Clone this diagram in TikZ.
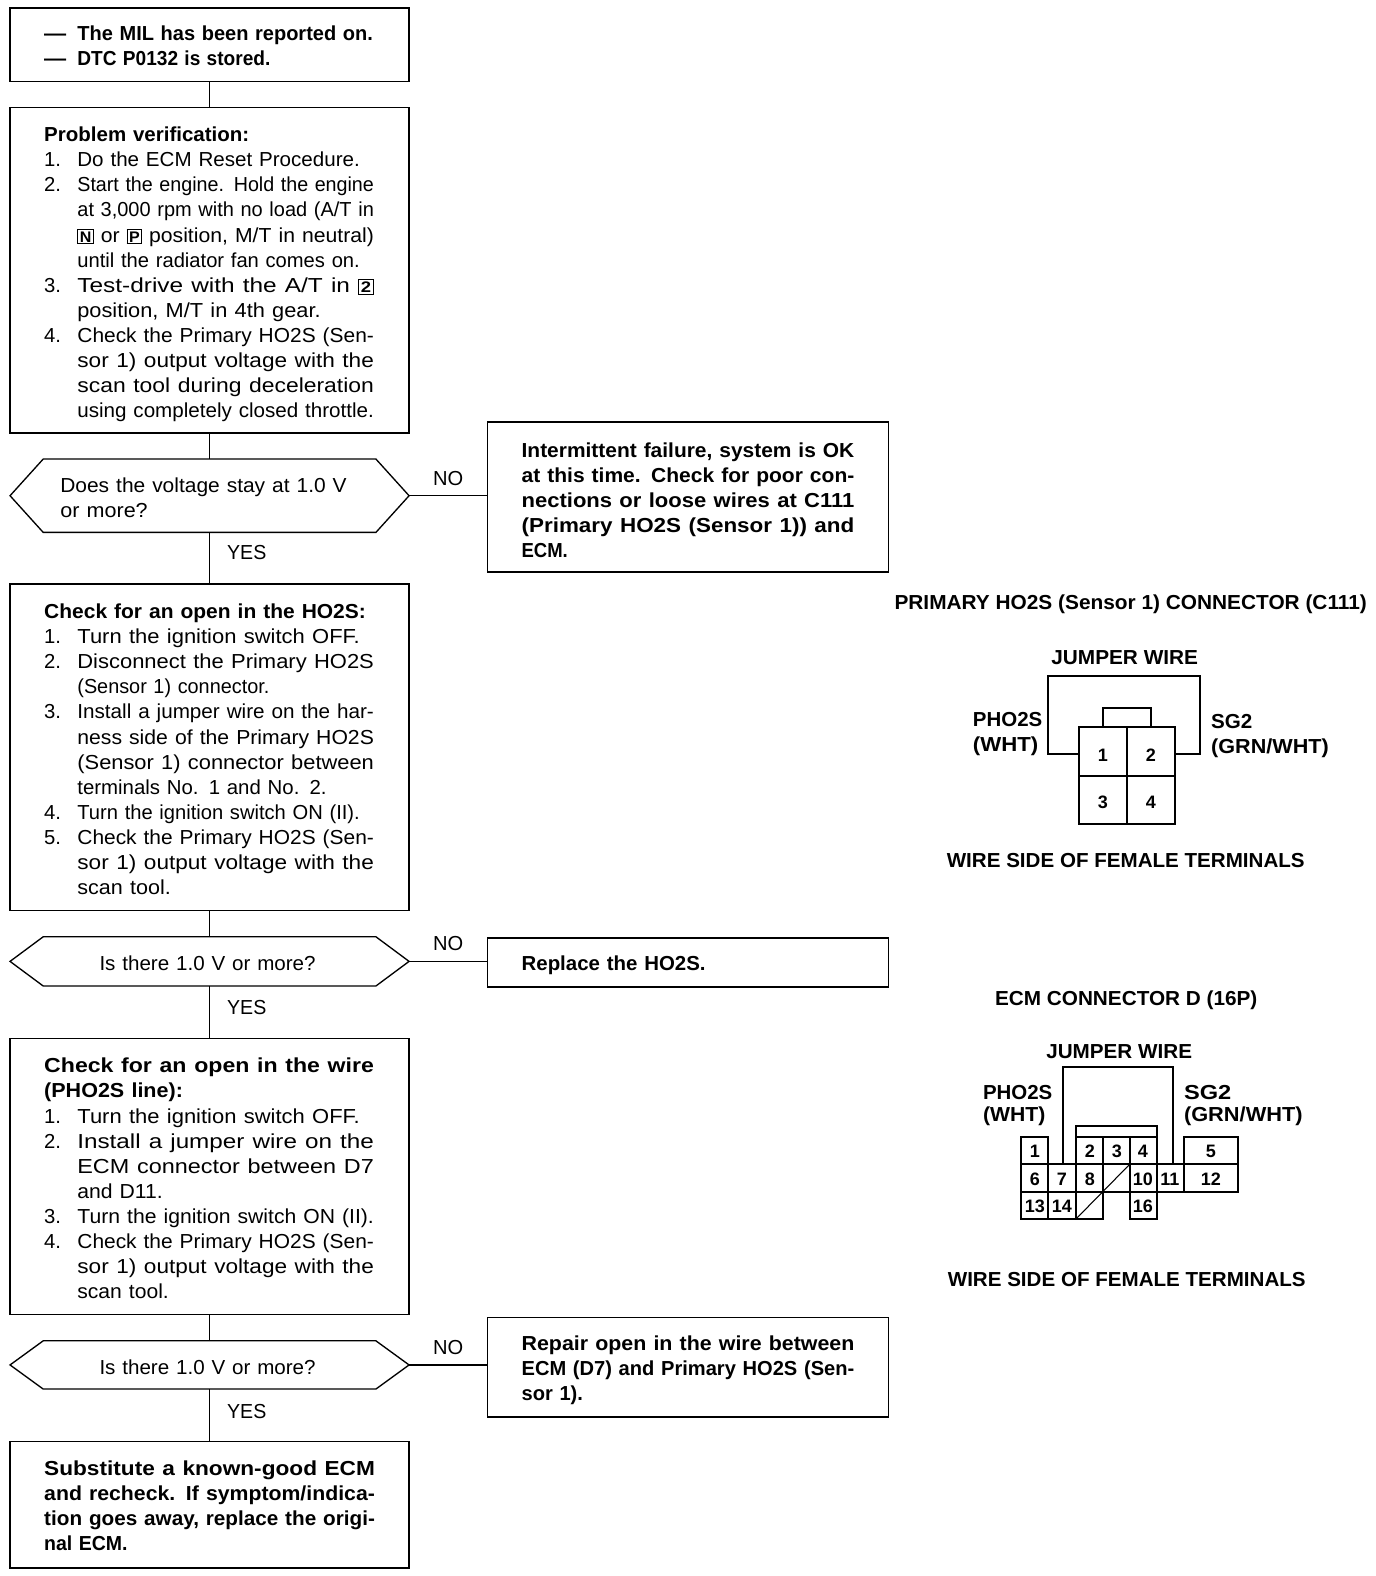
\documentclass[tikz,border=0pt]{standalone}
\usepackage{fontspec}
\usepackage{graphicx}
\setmainfont{Liberation Sans}
\newdimen\pxunit \pxunit=0.7538pt
\newcommand\Fit[3]{\resizebox{\numexpr#2-#1\relax\pxunit}{\height}{#3}}
\newcommand\Txt[2]{\Fit{44}{#1}{#2}}
\newcommand\Ind[2]{\hspace*{33\pxunit}\Fit{77}{#1}{#2}}
\newcommand\It[3]{\makebox[33\pxunit][l]{#1}\Fit{77}{#2}{#3}}
\newcommand\Rt[2]{\Fit{519}{#1}{#2}}
\newcommand\Bx[1]{{\setlength{\fboxsep}{1pt}\setlength{\fboxrule}{0.7pt}\fbox{\fontsize{11.5}{12}\selectfont\bfseries #1}}}
\newcommand\HexOutline[2]{\draw[hexline] (#1.west) -- ([xshift=#2\pxunit]#1.north west) -- ([xshift=-#2\pxunit]#1.north east) -- (#1.east) -- ([xshift=-#2\pxunit]#1.south east) -- ([xshift=#2\pxunit]#1.south west) -- cycle;}
\tikzset{
  txt/.style={font=\fontsize{15.2}{18.85}\selectfont, align=left, inner sep=0pt, outer sep=0pt},
  bold/.style={font=\fontsize{15.2}{18.85}\selectfont\bfseries},
  pad/.style={execute at begin node={\rule{0pt}{\dimexpr 11.2pt+#1\pxunit\relax}}},
  leftbox/.style={txt, draw, line width=1.1pt, rectangle, minimum width=397\pxunit, minimum height=#1\pxunit, text width=329\pxunit},
  rightbox/.style={txt, draw, line width=1.1pt, rectangle, minimum width=399\pxunit, minimum height=#1\pxunit, text width=331\pxunit},
  hexa/.style 2 args={txt, rectangle, minimum width=397\pxunit, minimum height=#1\pxunit, text width=#2\pxunit},
  hexline/.style={line width=1.0pt, line join=miter},
  flow/.style={line width=0.9pt},
  lbl/.style={txt, anchor=west},
  blbl/.style={txt, anchor=west, bold},
  pin/.style={inner sep=0pt, font=\fontsize{13.5}{16}\selectfont\bfseries},
  shell/.style={line width=1.7pt, line join=miter},
  inner/.style={line width=0.8pt},
  fine/.style={line width=0.9pt},
}
\begin{document}
\begin{tikzpicture}[x=0.7538pt,y=-0.7538pt]
\useasboundingbox (0,0) rectangle (1369,1568);
% left column
\node[leftbox=73, bold, pad=2] (start) at (208.5,44.5) {\makebox[33\pxunit][l]{\Fit{44}{66}{---}}\Fit{77}{371}{The MIL has been reported on.}\\ \makebox[33\pxunit][l]{\Fit{44}{66}{---}}\Fit{77}{269}{DTC P0132 is stored.}};
\node[leftbox=324, pad=8] (verify) at (208.5,269) {\Txt{248}{\bfseries Problem verification:}\\
\It{1.}{358}{Do the ECM Reset Procedure.}\\
\It{2.}{372}{Start the engine. Hold the engine}\\
\Ind{372}{at 3,000 rpm with no load (A/T in}\\
\Ind{372}{\Bx{N} or \Bx{P} position, M/T in neutral)}\\
\Ind{358}{until the radiator fan comes on.}\\
\It{3.}{372}{Test-drive with the A/T in \Bx{2}}\\
\Ind{319}{position, M/T in 4th gear.}\\
\It{4.}{372}{Check the Primary HO2S (Sen-}\\
\Ind{372}{sor 1) output voltage with the}\\
\Ind{372}{scan tool during deceleration}\\
\Ind{372}{using completely closed throttle.}};
\node[hexa={73}{297}, pad=4] (q1) at (208.5,493.2) {\Fit{60}{345}{Does the voltage stay at 1.0 V}\\ \Fit{60}{147}{or more?}};
\HexOutline{q1}{33}
\node[leftbox=325, pad=4] (hopen) at (208.5,743.5) {\Txt{364}{\bfseries Check for an open in the HO2S:}\\
\It{1.}{358}{Turn the ignition switch OFF.}\\
\It{2.}{372}{Disconnect the Primary HO2S}\\
\Ind{268}{(Sensor 1) connector.}\\
\It{3.}{372}{Install a jumper wire on the har-}\\
\Ind{372}{ness side of the Primary HO2S}\\
\Ind{372}{(Sensor 1) connector between}\\
\Ind{325}{terminals No. 1 and No. 2.}\\
\It{4.}{358}{Turn the ignition switch ON (II).}\\
\It{5.}{372}{Check the Primary HO2S (Sen-}\\
\Ind{372}{sor 1) output voltage with the}\\
\Ind{170}{scan tool.}};
\node[hexa={49}{219}, pad=3] (q2) at (208.5,956.5) {\Fit{99}{314}{Is there 1.0 V or more?}};
\HexOutline{q2}{33}
\node[leftbox=275, pad=4] (wopen) at (208.5,1170.5) {\Txt{372}{\bfseries Check for an open in the wire}\\
\Txt{182}{\bfseries (PHO2S line):}\\
\It{1.}{358}{Turn the ignition switch OFF.}\\
\It{2.}{372}{Install a jumper wire on the}\\
\Ind{372}{ECM connector between D7}\\
\Ind{162}{and D11.}\\
\It{3.}{372}{Turn the ignition switch ON (II).}\\
\It{4.}{372}{Check the Primary HO2S (Sen-}\\
\Ind{372}{sor 1) output voltage with the}\\
\Ind{168}{scan tool.}};
\node[hexa={48}{219}, pad=4] (q3) at (208.5,1358) {\Fit{99}{314}{Is there 1.0 V or more?}};
\HexOutline{q3}{33}
\node[leftbox=126, bold, pad=2] (final) at (208.5,1497) {\Txt{373}{Substitute a known-good ECM}\\
\Txt{373}{and recheck. If symptom/indica-}\\
\Txt{373}{tion goes away, replace the origi-}\\
\Txt{127}{nal ECM.}};
% right column
\node[rightbox=149, bold, pad=6] (ok) at (684.5,494.5) {\Rt{850}{Intermittent failure, system is OK}\\
\Rt{850}{at this time. Check for poor con-}\\
\Rt{850}{nections or loose wires at C111}\\
\Rt{850}{(Primary HO2S (Sensor 1)) and}\\
\Rt{565}{ECM.}};
\node[rightbox=49, bold, pad=6] (replace) at (684.5,957.5) {\Rt{702}{Replace the HO2S.}};
\node[rightbox=99, bold, pad=6] (repair) at (684.5,1360.5) {\Rt{850}{Repair open in the wire between}\\
\Rt{850}{ECM (D7) and Primary HO2S (Sen-}\\
\Rt{580}{sor 1).}};
% connectors
\draw[flow] (start) -- (verify);
\draw[flow] (verify) -- (q1);
\draw[flow] (q1) -- (hopen);
\draw[flow] (hopen) -- (q2);
\draw[flow] (q2) -- (wopen);
\draw[flow] (wopen) -- (q3);
\draw[flow] (q3) -- (final);
\draw[flow] (q1.east) -- (ok.west |- q1.east);
\draw[flow] (q2.east) -- (replace.west |- q2.east);
\draw[flow] (q3.east) -- (repair.west |- q3.east);
% branch labels
\node[lbl] (no1) at (431,476) {\Fit{431}{461}{NO}};
\node[lbl] (no2) at (431,938.5) {\Fit{431}{461}{NO}};
\node[lbl] (no3) at (431,1341) {\Fit{431}{461}{NO}};
\node[lbl] (yes1) at (226,550) {\Fit{226}{265}{YES}};
\node[lbl] (yes2) at (226,1002) {\Fit{226}{265}{YES}};
\node[lbl] (yes3) at (226,1404) {\Fit{226}{265}{YES}};
% C111 panel
\node[blbl] (t1) at (890,601) {\Fit{890}{1360}{PRIMARY HO2S (Sensor 1) CONNECTOR (C111)}};
\node[blbl] (j1) at (1046,654) {\Fit{1046}{1192}{JUMPER WIRE}};
\node[blbl] (p1) at (968,716) {\Fit{968}{1037}{PHO2S}};
\node[blbl] (w1) at (968,742) {\Fit{968}{1033}{(WHT)}};
\node[blbl] (s1) at (1205,718) {\Fit{1205}{1246}{SG2}};
\node[blbl] (g1) at (1205,744) {\Fit{1205}{1322}{(GRN/WHT)}};
\node[blbl] (f1) at (942,856) {\Fit{942}{1298}{WIRE SIDE OF FEMALE TERMINALS}};
% ECM panel labels
\node[blbl] (t2) at (990,995) {\Fit{990}{1251}{ECM CONNECTOR D (16P)}};
\node[blbl] (j2) at (1041,1046) {\Fit{1041}{1186}{JUMPER WIRE}};
\node[blbl] (p2) at (978,1087) {\Fit{978}{1047}{PHO2S}};
\node[blbl] (w2) at (978,1111) {\Fit{978}{1040}{(WHT)}};
\node[blbl] (s2) at (1178,1087) {\Fit{1178}{1225}{SG2}};
\node[blbl] (g2) at (1178,1111) {\Fit{1178}{1296}{(GRN/WHT)}};
\node[blbl] (f2) at (943,1273) {\Fit{943}{1299}{WIRE SIDE OF FEMALE TERMINALS}};
\begin{scope}[scale=0.9949]
% C111 connector
\draw[shell] (1079,727) rectangle (1175,824);
\draw[inner] (1127,727) -- (1127,824);
\draw[inner] (1079,776) -- (1175,776);
\draw[fine] (1079,754) -- (1048,754) -- (1048,676) -- (1200,676) -- (1200,754) -- (1175,754);
\draw[fine] (1103,727) -- (1103,708) -- (1151,708) -- (1151,727);
\node[pin] (a1) at (1103,755) {1};
\node[pin] (a2) at (1151,755) {2};
\node[pin] (a3) at (1103,802) {3};
\node[pin] (a4) at (1151,802) {4};
% ECM connector
\draw[shell] (1021,1137) -- (1048,1137) -- (1048,1164) -- (1076,1164) -- (1076,1137) -- (1157,1137) -- (1157,1164) -- (1184,1164) -- (1184,1137) -- (1238,1137) -- (1238,1192) -- (1157,1192) -- (1157,1219) -- (1130,1219) -- (1130,1192) -- (1103,1192) -- (1103,1219) -- (1021,1219) -- cycle;
\draw[shell] (1021,1164) -- (1238,1164);
\draw[inner] (1021,1192) -- (1103,1192);
\draw[inner] (1130,1192) -- (1157,1192);
\draw[inner] (1048,1164) -- (1048,1219);
\draw[inner] (1076,1164) -- (1076,1219);
\draw[inner] (1103,1137) -- (1103,1192);
\draw[inner] (1130,1137) -- (1130,1192);
\draw[inner] (1157,1164) -- (1157,1192);
\draw[inner] (1184,1164) -- (1184,1192);
\draw[inner] (1076,1219) -- (1130,1164);
\draw[shell] (1063,1164) -- (1063,1067) -- (1173,1067) -- (1173,1164);
\draw[shell] (1076,1137) -- (1076,1126) -- (1157,1126) -- (1157,1137);
\node[pin] (b1) at (1035,1151) {1};
\node[pin] (b2) at (1090,1151) {2};
\node[pin] (b3) at (1117,1151) {3};
\node[pin] (b4) at (1143,1151) {4};
\node[pin] (b5) at (1211,1151) {5};
\node[pin] (b6) at (1035,1179) {6};
\node[pin] (b7) at (1062,1179) {7};
\node[pin] (b8) at (1090,1179) {8};
\node[pin] (b10) at (1143,1179) {10};
\node[pin] (b11) at (1170,1179) {11};
\node[pin] (b12) at (1211,1179) {12};
\node[pin] (b13) at (1035,1206) {13};
\node[pin] (b14) at (1062,1206) {14};
\node[pin] (b16) at (1143,1206) {16};
\end{scope}
\end{tikzpicture}
\end{document}
